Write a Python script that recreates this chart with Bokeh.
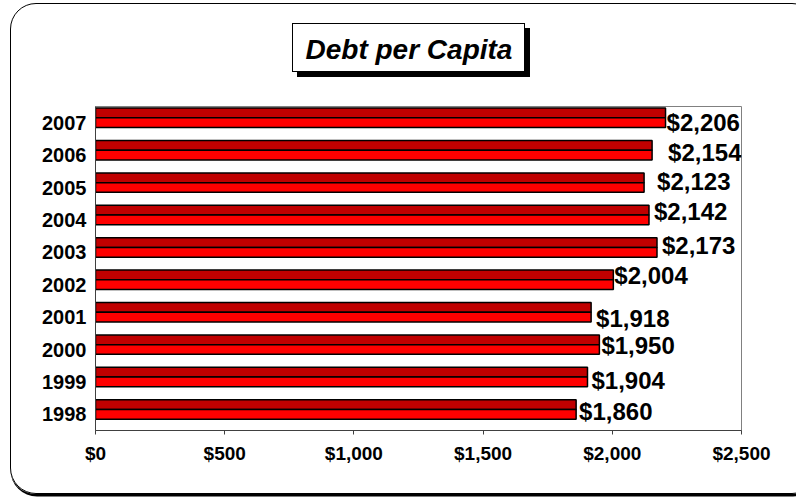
from bokeh.plotting import figure
from bokeh.models import (FactorRange, Range1d, FixedTicker, NumeralTickFormatter,
                          ColumnDataSource, InlineStyleSheet)
from bokeh.transform import dodge
from bokeh.core.properties import value
from bokeh.embed import file_html
from bokeh.resources import INLINE

# ---- data ----
years = ["1998", "1999", "2000", "2001", "2002", "2003", "2004", "2005", "2006", "2007"]
debt = [1860, 1904, 1950, 1918, 2004, 2173, 2142, 2123, 2154, 2206]
x_ticks = [0, 500, 1000, 1500, 2000, 2500]
title_text = "Debt per Capita"

# ---- label nudges in pixels (styling only) ----
label_dx = [3, 4, 2, 5, 1, 5, 5, 13, 16, 1]
label_dy = [-3, -1, -4, 1, -9, -7, -8, -6, -3, 0]

FONT = "Liberation Sans"
W, H = 796, 498

labels = ["${:,.0f}".format(v) for v in debt]
src = ColumnDataSource(dict(year=years, debt=debt, label=labels,
                            dx=label_dx, dy=label_dy))

p = figure(width=W, height=H, output_backend="svg", toolbar_location=None,
           y_range=FactorRange(factors=years), x_range=Range1d(0, 2500),
           min_border_left=95, min_border_right=55, min_border_top=106,
           min_border_bottom=68, title=title_text)

p.background_fill_color = "white"
p.border_fill_color = "white"
p.outline_line_color = "#808080"
p.outline_line_width = 1
p.xgrid.grid_line_color = None
p.ygrid.grid_line_color = None

# title text (box + shadow drawn as decoration below)
p.title.text_font = FONT
p.title.text_font_style = "bold italic"
p.title.text_font_size = "28px"
p.title.text_color = "black"
p.title.align = "left"
p.title.offset = 210
p.title.padding = dict(left=0, right=0, top=0, bottom=10)
p.title.standoff = 63

# bars: dark upper half + bright lower half
p.hbar(y=dodge("year", 0.30, range=p.y_range), right="debt", left=0, height=0.30,
       source=src, fill_color="#C00000", line_color="black", line_width=1.5)
p.hbar(y=dodge("year", 0.0, range=p.y_range), right="debt", left=0, height=0.30,
       source=src, fill_color="#FF0000", line_color="black", line_width=1.5)

# value labels
p.text(x="debt", y=dodge("year", 0.0, range=p.y_range), text="label", source=src,
       x_offset="dx", y_offset="dy",
       text_font=value(FONT), text_font_style="bold", text_font_size="24px",
       text_align="left", text_baseline="middle", text_color="black")

# axes
xa = p.xaxis[0]
xa.ticker = FixedTicker(ticks=x_ticks)
xa.formatter = NumeralTickFormatter(format="$0,0")
xa.major_label_text_font = FONT
xa.major_label_text_font_style = "bold"
xa.major_label_text_font_size = "19px"
xa.major_label_text_color = "black"
xa.major_tick_in = 0
xa.major_tick_out = 4
xa.minor_tick_line_color = None
xa.axis_line_color = "#404040"
xa.major_tick_line_color = "#404040"
xa.major_label_standoff = 8

ya = p.yaxis[0]
ya.major_label_text_font = FONT
ya.major_label_text_font_style = "bold"
ya.major_label_text_font_size = "20px"
ya.major_label_text_color = "black"
ya.major_tick_line_color = None
ya.major_tick_in = 0
ya.major_tick_out = 0
ya.minor_tick_line_color = None
ya.axis_line_color = "#404040"
ya.major_label_standoff = 9

# decoration: title box with drop shadow, outer rounded frame with shadow
p.stylesheets = [InlineStyleSheet(css="""
:host::before {
  content: "";
  position: fixed;
  left: 292px; top: 23px;
  width: 233px; height: 49px;
  box-sizing: border-box;
  border: 1px solid #000;
  box-shadow: 5px 5px 0 #000;
  pointer-events: none;
  z-index: 10;
}
:host::after {
  content: "";
  position: fixed;
  left: 10px; top: 3px;
  width: 808px; height: 491px;
  box-sizing: border-box;
  border: 1.5px solid #000;
  border-radius: 26px;
  box-shadow: 1px 2px 0 0.5px #000;
  pointer-events: none;
  z-index: 10;
}
""")]

open("out.html", "w").write(file_html(p, INLINE))
